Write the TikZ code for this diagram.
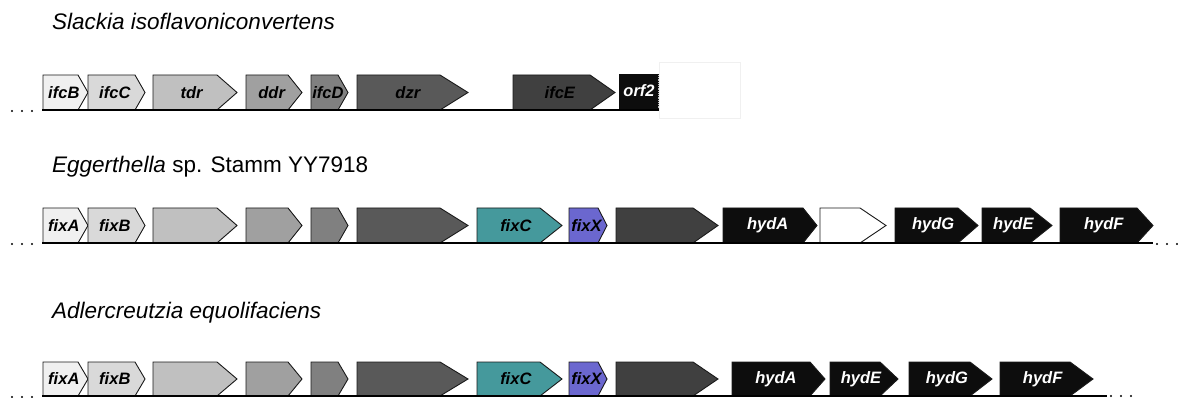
\documentclass[tikz,border=0pt]{standalone}
\usepackage{fontspec}
\setmainfont{Liberation Sans}

\definecolor{gA}{HTML}{F0F0F0}
\definecolor{gB}{HTML}{D9D9D9}
\definecolor{gC}{HTML}{C0C0C0}
\definecolor{gD}{HTML}{A0A0A0}
\definecolor{gE}{HTML}{808080}
\definecolor{gF}{HTML}{595959}
\definecolor{gG}{HTML}{404040}
\definecolor{gK}{HTML}{0D0D0D}
\definecolor{teal}{HTML}{45999C}
\definecolor{violet}{HTML}{6B67CF}
\definecolor{rim}{HTML}{1A1A1A}

\tikzset{
  genebox/.style={draw=rim, line width=0.9pt, line join=miter},
  genelabel/.style={inner sep=0pt, font=\bfseries\itshape\fontsize{16.5}{16.5}\selectfont},
  species/.style={anchor=base west, inner sep=0pt, font=\fontsize{22.5}{22.5}\selectfont},
  backbone/.style={line width=2.4pt, black},
  gap/.style={fill=black}
}

% #1 name, #2 left x, #3 start of tip, #4 tip x, #5 top y, #6 bottom y,
% #7 fill, #8 text colour, #9 label
\newcommand\genearrow[9]{%
  \draw[genebox, fill=#7] (#2,#5) -- (#3,#5) -- (#4,{(#5+#6)/2}) -- (#3,#6) -- (#2,#6) -- cycle;
  \node[genelabel, text=#8] (#1) at ({(#2+#3)/2+(#4-#3)/3},{(#5+#6)/2}) {#9};
}
% three dots marking a continuing sequence
\newcommand\moredots[2]{%
  \foreach \k in {0,1,2} \fill[gap] ({#1+10*\k},#2) circle (1.2);
}

\begin{document}
\begin{tikzpicture}[x=1pt, y=-1pt]
\useasboundingbox (0,0) rectangle (1178,398);

% ---------------- Slackia isoflavoniconvertens ----------------
\node[species] (t1) at (52,30) {\itshape Slackia isoflavoniconvertens};
\draw[gray!12, line width=0.6pt] (659,62) rectangle (740,118);
\genearrow{ifcB}{43}{78}{88}{75}{110}{gA}{black}{ifcB}
\genearrow{ifcC}{88}{135}{145}{75}{110}{gB}{black}{ifcC}
\genearrow{tdr}{153}{217}{237}{75}{110}{gC}{black}{tdr}
\genearrow{ddr}{246}{288}{302}{75}{110}{gD}{black}{ddr}
\genearrow{ifcD}{311}{338}{348}{75}{110}{gE}{black}{ifcD}
\genearrow{dzr}{357}{440}{468}{75}{110}{gF}{black}{dzr}
\genearrow{ifcE}{513}{590}{615}{75}{110}{gG}{black}{ifcE}
\fill[gK] (619,74) rectangle (659,111);
\draw[white!75!black, line width=0.8pt, densely dotted] (658.6,75) -- (658.6,110);
\node[genelabel, text=white] (orf2) at (639,91) {orf2};
\coordinate (s1) at (42,110);
\coordinate (e1) at (659,110);
\draw[backbone] (s1) -- (e1);
\moredots{12}{111}

% ---------------- Eggerthella sp. Stamm YY7918 ----------------
\node[species] (t2) at (52,173) {\itshape Eggerthella\upshape{} sp. Stamm YY7918};
\genearrow{fixA2}{43}{78}{88}{208}{243}{gA}{black}{fixA}
\genearrow{fixB2}{88}{135}{145}{208}{243}{gB}{black}{fixB}
\genearrow{tdr2}{153}{217}{237}{208}{243}{gC}{black}{}
\genearrow{ddr2}{246}{288}{302}{208}{243}{gD}{black}{}
\genearrow{ifcD2}{311}{338}{348}{208}{243}{gE}{black}{}
\genearrow{dzr2}{357}{440}{468}{208}{243}{gF}{black}{}
\genearrow{fixC2}{477}{540}{562}{208}{243}{teal}{black}{fixC}
\genearrow{fixX2}{569}{598}{607}{208}{243}{violet}{black}{fixX}
\genearrow{ifcE2}{616}{693}{718}{208}{243}{gG}{black}{}
\genearrow{hydA2}{723}{803}{817}{208}{243}{gK}{white}{hydA}
\genearrow{orf2b}{820}{860}{886}{208}{243}{white}{black}{}
\genearrow{hydG2}{895}{958}{978}{208}{243}{gK}{white}{hydG}
\genearrow{hydE2}{982}{1030}{1052}{208}{243}{gK}{white}{hydE}
\genearrow{hydF2}{1060}{1137}{1153}{208}{243}{gK}{white}{hydF}
\coordinate (s2) at (42,243);
\coordinate (e2) at (1153,243);
\draw[backbone] (s2) -- (e2);
\moredots{12}{244}
\moredots{1157}{244}

% ---------------- Adlercreutzia equolifaciens ----------------
\node[species] (t3) at (52,318) {\itshape Adlercreutzia equolifaciens};
\genearrow{fixA3}{43}{78}{88}{362}{396}{gA}{black}{fixA}
\genearrow{fixB3}{88}{135}{145}{362}{396}{gB}{black}{fixB}
\genearrow{tdr3}{153}{217}{237}{362}{396}{gC}{black}{}
\genearrow{ddr3}{246}{288}{302}{362}{396}{gD}{black}{}
\genearrow{ifcD3}{311}{338}{348}{362}{396}{gE}{black}{}
\genearrow{dzr3}{357}{440}{468}{362}{396}{gF}{black}{}
\genearrow{fixC3}{477}{540}{562}{362}{396}{teal}{black}{fixC}
\genearrow{fixX3}{569}{598}{607}{362}{396}{violet}{black}{fixX}
\genearrow{ifcE3}{616}{693}{718}{362}{396}{gG}{black}{}
\genearrow{hydA3}{732}{810}{825}{362}{396}{gK}{white}{hydA}
\genearrow{hydE3}{830}{880}{898}{362}{396}{gK}{white}{hydE}
\genearrow{hydG3}{909}{970}{992}{362}{396}{gK}{white}{hydG}
\genearrow{hydF3}{1000}{1070}{1093}{362}{396}{gK}{white}{hydF}
\coordinate (s3) at (42,396);
\coordinate (e3) at (1107,396);
\draw[backbone] (s3) -- (e3);
\moredots{12}{397}
\moredots{1111}{396}
\end{tikzpicture}
\end{document}
